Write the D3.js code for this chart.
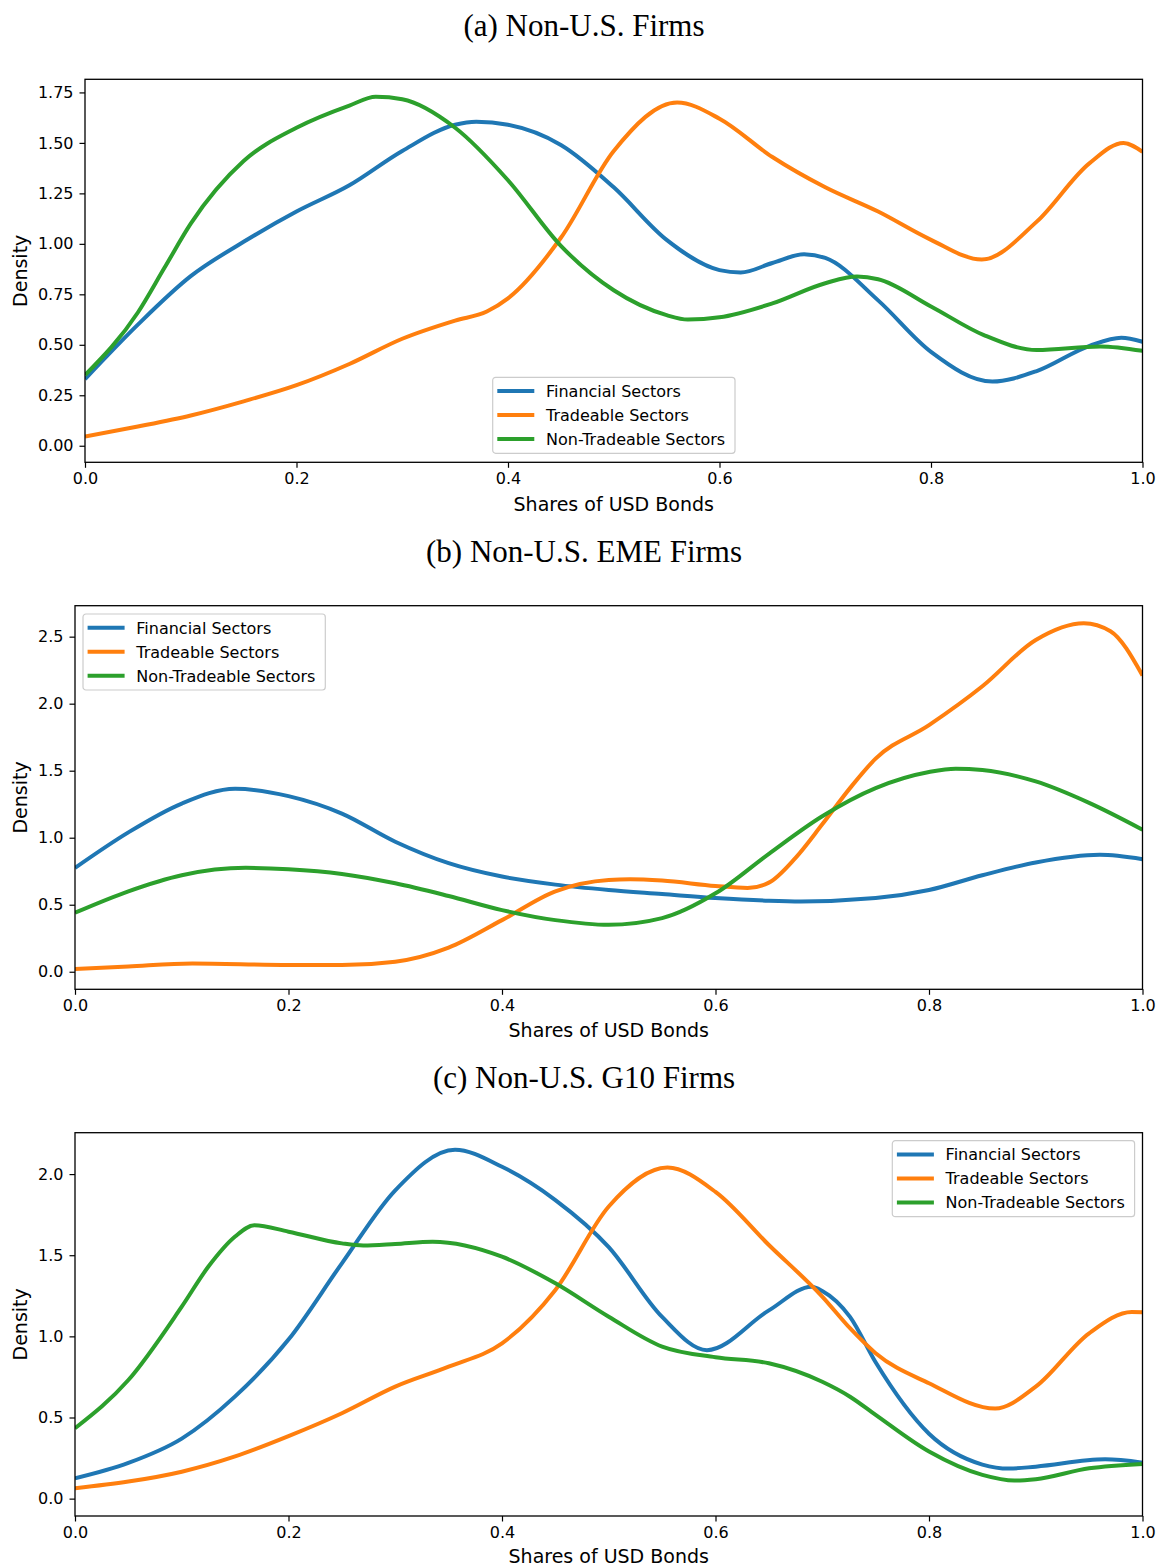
<!DOCTYPE html>
<html>
<head>
<meta charset="utf-8">
<script src="https://cdn.jsdelivr.net/npm/d3@7"></script>
<style>
  html, body { margin: 0; padding: 0; background: #fff; }
  svg { display: block; }
  text { font-family: "DejaVu Sans", sans-serif; fill: #000; }
</style>
</head>
<body>
<svg id="chart" width="1159" height="1567"></svg>
<script>
// ---------------- DATA ----------------
const seriesNames = ["Financial Sectors", "Tradeable Sectors", "Non-Tradeable Sectors"];
const panelTitles = ["(a) Non-U.S. Firms", "(b) Non-U.S. EME Firms", "(c) Non-U.S. G10 Firms"];
const xLabel = "Shares of USD Bonds";
const yLabel = "Density";
const xTicks = [0, 0.2, 0.4, 0.6, 0.8, 1.0];
const yTicksA = [0, 0.25, 0.5, 0.75, 1.0, 1.25, 1.5, 1.75];
const yTicksB = [0, 0.5, 1.0, 1.5, 2.0, 2.5];
const yTicksC = [0, 0.5, 1.0, 1.5, 2.0];

// Panel (a) Non-U.S. Firms — [share, density]
const finA = [[0,0.33],[0.05,0.60],[0.1,0.84],[0.15,1.01],[0.2,1.16],[0.25,1.29],[0.3,1.46],[0.35,1.59],[0.37,1.605],[0.4,1.59],[0.45,1.49],[0.5,1.28],[0.55,1.02],[0.6,0.87],[0.62,0.858],[0.65,0.905],[0.68,0.948],[0.7,0.93],[0.75,0.72],[0.8,0.465],[0.858,0.318],[0.9,0.37],[0.95,0.495],[0.98,0.535],[1.0,0.515]];
const orgA = [[0,0.045],[0.05,0.095],[0.1,0.15],[0.15,0.22],[0.2,0.30],[0.25,0.405],[0.3,0.53],[0.35,0.62],[0.38,0.665],[0.4,0.73],[0.45,1.03],[0.5,1.46],[0.56,1.70],[0.6,1.62],[0.65,1.43],[0.7,1.28],[0.75,1.16],[0.8,1.02],[0.848,0.922],[0.9,1.11],[0.95,1.40],[0.982,1.50],[1.0,1.456]];
const grnA = [[0,0.35],[0.05,0.66],[0.075,0.88],[0.1,1.10],[0.15,1.41],[0.2,1.575],[0.25,1.685],[0.275,1.728],[0.3,1.716],[0.35,1.575],[0.4,1.315],[0.45,0.99],[0.5,0.77],[0.55,0.647],[0.57,0.625],[0.6,0.636],[0.65,0.705],[0.7,0.805],[0.73,0.838],[0.75,0.825],[0.8,0.69],[0.85,0.548],[0.9,0.474],[0.96,0.492],[1.0,0.47]];

// Panel (b) Non-U.S. EME Firms
const finB = [[0,0.775],[0.05,1.04],[0.1,1.255],[0.15,1.365],[0.2,1.31],[0.25,1.18],[0.3,0.97],[0.35,0.81],[0.4,0.71],[0.45,0.65],[0.5,0.61],[0.55,0.58],[0.6,0.55],[0.65,0.53],[0.68,0.525],[0.75,0.55],[0.8,0.61],[0.85,0.72],[0.9,0.815],[0.96,0.872],[1.0,0.84]];
const orgB = [[0,0.02],[0.05,0.04],[0.11,0.062],[0.2,0.05],[0.25,0.05],[0.3,0.075],[0.35,0.18],[0.4,0.385],[0.45,0.60],[0.5,0.685],[0.52,0.69],[0.55,0.68],[0.6,0.64],[0.63,0.625],[0.65,0.665],[0.675,0.85],[0.7,1.10],[0.726,1.37],[0.75,1.59],[0.8,1.84],[0.85,2.13],[0.9,2.475],[0.945,2.60],[0.97,2.54],[1.0,2.21]];
const grnB = [[0,0.44],[0.05,0.60],[0.1,0.72],[0.16,0.775],[0.2,0.765],[0.25,0.73],[0.3,0.66],[0.35,0.565],[0.4,0.46],[0.45,0.385],[0.5,0.35],[0.55,0.40],[0.6,0.585],[0.65,0.88],[0.7,1.16],[0.75,1.37],[0.8,1.49],[0.825,1.515],[0.85,1.505],[0.9,1.42],[0.95,1.26],[1.0,1.06]];

// Panel (c) Non-U.S. G10 Firms
const finC = [[0,0.125],[0.05,0.22],[0.1,0.37],[0.15,0.63],[0.2,0.98],[0.25,1.45],[0.3,1.90],[0.356,2.15],[0.4,2.045],[0.45,1.84],[0.5,1.55],[0.55,1.12],[0.592,0.915],[0.65,1.16],[0.69,1.306],[0.7,1.28],[0.726,1.12],[0.75,0.84],[0.8,0.40],[0.85,0.21],[0.875,0.185],[0.9,0.197],[0.965,0.242],[1.0,0.222]];
const orgC = [[0,0.064],[0.05,0.105],[0.1,0.166],[0.15,0.26],[0.2,0.385],[0.25,0.526],[0.3,0.69],[0.35,0.813],[0.4,0.957],[0.45,1.286],[0.5,1.80],[0.555,2.04],[0.6,1.89],[0.65,1.563],[0.7,1.245],[0.726,1.05],[0.75,0.896],[0.8,0.711],[0.862,0.555],[0.9,0.69],[0.95,1.019],[0.99,1.15],[1.0,1.148]];
const grnC = [[0,0.434],[0.05,0.731],[0.1,1.183],[0.125,1.43],[0.15,1.615],[0.168,1.685],[0.2,1.645],[0.25,1.573],[0.27,1.56],[0.3,1.569],[0.335,1.583],[0.4,1.491],[0.45,1.327],[0.5,1.121],[0.55,0.937],[0.6,0.871],[0.65,0.834],[0.7,0.72],[0.726,0.628],[0.75,0.516],[0.8,0.29],[0.85,0.146],[0.88,0.111],[0.9,0.12],[0.95,0.187],[1.0,0.214]];

const colors = ["#1f77b4", "#ff7f0e", "#2ca02c"];

// ---------------- LAYOUT ----------------
const panels = [
  { title: panelTitles[0], titleY: 36, series: [finA, orgA, grnA], yTicks: yTicksA, yFmt: ".2f",
    left: 85, right: 1142.5, top: 79.3, bottom: 462.3, yDomain: [-0.082, 1.815],
    xLabelY: 511, legend: { x: 492.7, y: 377.3, w: 242.3 } },
  { title: panelTitles[1], titleY: 562, series: [finB, orgB, grnB], yTicks: yTicksB, yFmt: ".1f",
    left: 75, right: 1142.5, top: 605.7, bottom: 989.3, yDomain: [-0.131, 2.731],
    xLabelY: 1037, legend: { x: 83, y: 614, w: 242.3 } },
  { title: panelTitles[2], titleY: 1088, series: [finC, orgC, grnC], yTicks: yTicksC, yFmt: ".1f",
    left: 75, right: 1142.5, top: 1132.7, bottom: 1516, yDomain: [-0.107, 2.255],
    xLabelY: 1563, legend: { x: 892.3, y: 1140.7, w: 242.3 } }
];

const svg = d3.select("#chart");
const defs = svg.append("defs");

panels.forEach((p, i) => {
  const x = d3.scaleLinear().domain([0, 1]).range([p.left, p.right]);
  const y = d3.scaleLinear().domain(p.yDomain).range([p.bottom, p.top]);

  // title
  svg.append("text")
    .attr("x", 584).attr("y", p.titleY)
    .attr("text-anchor", "middle")
    .style("font-family", "'Liberation Serif', 'Times New Roman', serif")
    .style("font-size", "31px")
    .text(p.title);

  // clip
  const cid = "clip" + i;
  defs.append("clipPath").attr("id", cid)
    .append("rect")
    .attr("x", p.left).attr("y", p.top)
    .attr("width", p.right - p.left).attr("height", p.bottom - p.top);

  // lines
  const line = d3.line()
    .x(d => x(d[0])).y(d => y(d[1]))
    .curve(d3.curveMonotoneX);
  const g = svg.append("g").attr("clip-path", `url(#${cid})`);
  p.series.forEach((s, k) => {
    g.append("path")
      .attr("d", line(s))
      .attr("fill", "none")
      .attr("stroke", colors[k])
      .attr("stroke-width", 4)
      .attr("stroke-linejoin", "round");
  });

  // axes
  const xAxis = d3.axisBottom(x).tickValues(xTicks).tickFormat(d3.format(".1f"))
    .tickSize(5.5).tickPadding(5);
  const gx = svg.append("g").attr("transform", `translate(0,${p.bottom})`).call(xAxis);
  gx.select(".domain").remove();
  gx.selectAll("text").style("font-size", "16px").style("font-family", "'DejaVu Sans', sans-serif");
  gx.selectAll("line").attr("stroke", "#000").attr("stroke-width", 1.2);

  const yAxis = d3.axisLeft(y).tickValues(p.yTicks).tickFormat(d3.format(p.yFmt))
    .tickSize(5.5).tickPadding(6);
  const gy = svg.append("g").attr("transform", `translate(${p.left},0)`).call(yAxis);
  gy.select(".domain").remove();
  gy.selectAll("text").style("font-size", "16px").style("font-family", "'DejaVu Sans', sans-serif");
  gy.selectAll("line").attr("stroke", "#000").attr("stroke-width", 1.2);

  // frame
  svg.append("rect")
    .attr("x", p.left).attr("y", p.top)
    .attr("width", p.right - p.left).attr("height", p.bottom - p.top)
    .attr("fill", "none").attr("stroke", "#000").attr("stroke-width", 1.3);

  // axis labels
  svg.append("text")
    .attr("x", (p.left + p.right) / 2).attr("y", p.xLabelY)
    .attr("text-anchor", "middle")
    .style("font-size", "19px")
    .text(xLabel);
  svg.append("text")
    .attr("transform", `translate(27,${(p.top + p.bottom) / 2}) rotate(-90)`)
    .attr("text-anchor", "middle")
    .style("font-size", "19px")
    .text(yLabel);

  // legend
  const L = p.legend;
  const lg = svg.append("g").attr("transform", `translate(${L.x},${L.y})`);
  lg.append("rect")
    .attr("x", 0).attr("y", 0).attr("width", L.w).attr("height", 76)
    .attr("rx", 3).attr("ry", 3)
    .attr("fill", "#fff").attr("fill-opacity", 0.8)
    .attr("stroke", "#cccccc").attr("stroke-width", 1.2);
  seriesNames.forEach((name, k) => {
    const cy = 13.7 + k * 24;
    lg.append("line")
      .attr("x1", 4.6).attr("x2", 41.6).attr("y1", cy).attr("y2", cy)
      .attr("stroke", colors[k]).attr("stroke-width", 4);
    lg.append("text")
      .attr("x", 53.3).attr("y", cy + 5.8)
      .style("font-size", "16px")
      .text(name);
  });
});
</script>
</body>
</html>
